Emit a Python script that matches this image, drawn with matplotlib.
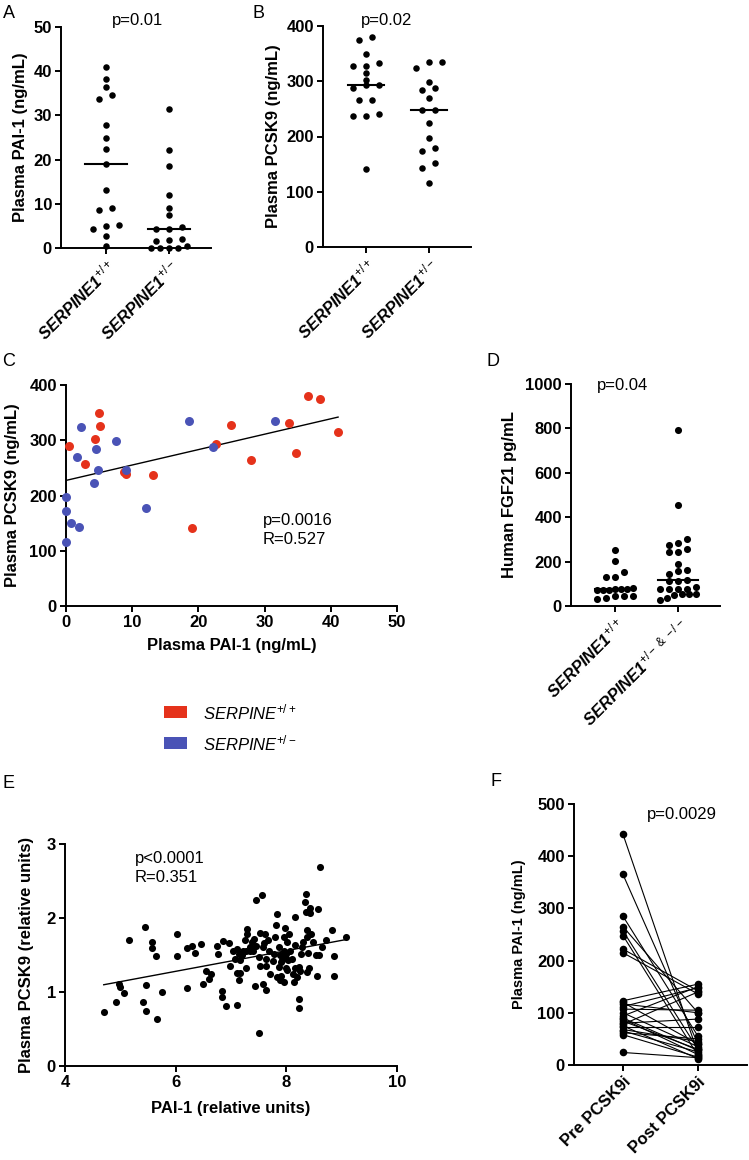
import numpy as np
import matplotlib
matplotlib.use('Agg')
import matplotlib.pyplot as plt
from matplotlib.patches import Rectangle

plt.rcParams['font.family'] = ['Liberation Sans', 'DejaVu Sans']
plt.rcParams['mathtext.fontset'] = 'custom'
plt.rcParams['mathtext.rm'] = 'Liberation Sans'
plt.rcParams['mathtext.it'] = 'Liberation Sans:italic'
plt.rcParams['mathtext.bf'] = 'Liberation Sans:bold'

# ---------------- DATA ----------------
# Panel A: plasma PAI-1 (ng/mL)
a_labels = ["SERPINE1$^{+/+}$", "SERPINE1$^{+/-}$"]
a_wt = [40.9, 38.2, 36.4, 34.6, 33.6, 27.8, 24.8, 22.5, 19.1, 13.1, 8.7, 9.0, 5.1, 4.9, 4.3, 2.8, 0.4]
a_het = [31.4, 22.2, 18.5, 11.9, 9.0, 7.5, 4.3, 4.4, 4.7, 1.5, 0.5, 1.7, 2.0, 0, 0, 0, 0]

# Panel B: plasma PCSK9 (ng/mL)
b_labels = ["SERPINE1$^{+/+}$", "SERPINE1$^{+/-}$"]
b_wt = [380.7, 374.7, 349.4, 327.1, 327.1, 332.5, 315.7, 302.4, 292.8, 292.8, 287.3,
        266.3, 266.3, 241.6, 238.0, 238.0, 141.6]
b_het = [335.5, 335.5, 324.7, 298.8, 285.0, 288.6, 269.3, 247.6, 247.6, 224.1, 197.0,
         178.9, 172.9, 151.8, 142.8, 115.0]

# Panel C: PCSK9 vs PAI-1
c_wt_pai1 = [0.45, 2.9, 4.4, 5.0, 5.2, 8.7, 9.1, 13.2, 19.1, 22.7, 24.9, 27.9, 33.7, 34.7, 36.5, 38.3, 41.1]
c_wt_pcsk9 = [289.6, 257.6, 302.3, 349.3, 326.4, 242.0, 238.3, 237.1, 141.2, 293.2, 328.2, 263.6,
              331.8, 276.3, 380.7, 374.7, 314.9]
c_het_pai1 = [0.0, 0.0, 0.0, 0.7, 1.7, 2.0, 2.2, 4.2, 4.6, 4.9, 7.6, 9.0, 12.1, 18.6, 22.2, 31.6]
c_het_pcsk9 = [196.7, 172.5, 115.2, 150.2, 269.1, 142.4, 324.0, 223.2, 284.2, 246.8, 298.0,
               246.8, 178.0, 335.4, 288.4, 335.4]
legend_labels = ["SERPINE$^{+/+}$", "SERPINE$^{+/-}$"]

# Panel D: human FGF21 (pg/mL)
d_labels = ["SERPINE1$^{+/+}$", "SERPINE1$^{+/-\\ &\\ -/-}$"]
d_wt = [251.5, 203.3, 131, 131, 153.6, 73.8, 73.8, 82.8, 73.8, 78.3, 78.3, 78.3,
        37.7, 43.7, 43.7, 46.7, 33.1]
d_mut = [793.7, 456.3, 300, 282, 275, 258, 241, 241, 188, 161, 158, 143, 118, 113, 113,
         78, 78, 86, 78, 78, 53, 56, 56, 48, 29, 38]

# Panel E: PCSK9 vs PAI-1 (relative units)
e_pai1 = [4.70, 4.92, 4.98, 4.99, 5.07, 5.16, 5.41, 5.46, 5.46, 5.45, 5.57, 5.58, 5.65, 5.67,
          5.76, 6.02, 6.03, 6.21, 6.21, 6.29, 6.35, 6.45, 6.49, 6.55, 6.61, 6.63, 6.75, 6.76,
          6.83, 6.84, 6.86, 6.91, 6.97, 6.99, 7.03, 7.07, 7.11, 7.11, 7.14, 7.11, 7.16, 7.14,
          7.17, 7.22, 7.25, 7.27, 7.28, 7.29, 7.29, 7.34, 7.38, 7.40, 7.41, 7.43, 7.46, 7.51,
          7.52, 7.53, 7.56, 7.58, 7.57, 7.51, 7.62, 7.63, 7.64, 7.64, 7.67, 7.68, 7.70, 7.75,
          7.77, 7.79, 7.82, 7.83, 7.83, 7.86, 7.87, 7.88, 7.89, 7.91, 7.92, 7.95, 7.95, 7.95,
          7.97, 7.99, 8.00, 8.01, 8.03, 8.05, 8.07, 8.11, 8.12, 8.13, 8.15, 8.16, 8.16, 8.19,
          8.22, 8.22, 8.22, 8.24, 8.27, 8.29, 8.31, 8.33, 8.35, 8.36, 8.37, 8.37, 8.38, 8.40,
          8.41, 8.42, 8.43, 8.45, 8.48, 8.54, 8.56, 8.57, 8.59, 8.60, 8.64, 8.71, 8.83, 8.86,
          8.86, 9.07, 7.20, 7.45, 7.90, 8.02, 7.98, 7.60, 7.35]
e_pcsk9 = [0.73, 0.86, 1.11, 1.07, 0.98, 1.70, 0.86, 0.75, 1.09, 1.88, 1.68, 1.60, 1.48, 0.64,
           1.00, 1.48, 1.79, 1.05, 1.60, 1.62, 1.53, 1.65, 1.11, 1.29, 1.18, 1.25, 1.62, 1.52,
           1.02, 0.93, 1.69, 0.81, 1.66, 1.35, 1.56, 1.45, 1.58, 1.26, 1.16, 0.83, 1.43, 1.52,
           1.26, 1.56, 1.70, 1.32, 1.56, 1.85, 1.79, 1.61, 1.67, 1.56, 1.72, 1.08, 2.24, 1.47,
           1.35, 1.80, 2.31, 1.61, 1.11, 0.44, 1.79, 1.03, 1.35, 1.45, 1.70, 1.56, 1.24, 1.42,
           1.52, 1.75, 1.90, 2.05, 1.20, 1.61, 1.34, 1.50, 1.16, 1.22, 1.43, 1.56, 1.75, 1.14,
           1.86, 1.33, 1.52, 1.68, 1.43, 1.79, 1.56, 1.45, 1.25, 1.14, 1.63, 2.02, 1.32, 1.20,
           1.34, 0.91, 0.79, 1.29, 1.52, 1.61, 1.68, 2.21, 2.08, 2.32, 1.84, 1.27, 1.75, 1.53,
           1.32, 2.07, 2.14, 1.78, 1.68, 1.50, 1.21, 2.12, 1.50, 2.69, 1.61, 1.70, 1.84, 1.48,
           1.21, 1.75, 1.50, 1.62, 1.40, 1.30, 1.48, 1.66, 1.55]

# Panel F: plasma PAI-1 pre/post PCSK9i (paired)
f_labels = ["Pre PCSK9i", "Post PCSK9i"]
f_pre = [442, 365, 285, 265, 257, 248, 222, 215, 123, 120, 117, 112, 107, 100, 94, 90, 88,
         84, 80, 78, 75, 72, 68, 65, 62, 58, 24]
f_post = [22, 40, 55, 100, 30, 18, 142, 136, 155, 40, 100, 148, 105, 35, 150, 28, 20, 30,
          88, 140, 12, 72, 45, 25, 50, 15, 14]

# ---------------- LAYOUT ----------------
W, H = 749, 1160
fig = plt.figure(figsize=(W / 100, H / 100), dpi=100)
RED = '#E5321B'
BLUE = '#4A53B6'
TICK_FS = 12
LW = 1.4


def fx(px):
    return px / W


def fy(py):
    return 1 - py / H


def ax_at(l, r, t, b):
    return fig.add_axes([l / W, 1 - b / H, (r - l) / W, (b - t) / H])


def style(ax):
    for s in ['top', 'right']:
        ax.spines[s].set_visible(False)
    for s in ['left', 'bottom']:
        ax.spines[s].set_linewidth(LW)
    ax.tick_params(direction='out', length=4.5, width=LW, labelsize=TICK_FS, pad=2)


def bold_ticks(ax):
    for t in ax.get_xticklabels() + ax.get_yticklabels():
        t.set_fontweight('bold')


def swarm(vals, ax, step_px, max_w_px, diam_px=6.0):
    v = np.asarray(vals, dtype=float)
    bb = ax.get_position()
    h_px = bb.height * H
    w_px = bb.width * W
    y0, y1 = ax.get_ylim()
    x0, x1 = ax.get_xlim()
    ppu_y = h_px / (y1 - y0)
    ppu_x = w_px / (x1 - x0)
    order = np.argsort(v, kind='stable')
    offs = np.zeros(len(v))
    i = 0
    while i < len(order):
        j = i
        start = v[order[i]]
        while j + 1 < len(order) and (v[order[j + 1]] - start) * ppu_y < diam_px:
            j += 1
        n = j - i + 1
        st = step_px if n < 2 else min(step_px, max_w_px / (n - 1))
        for k in range(n):
            offs[order[i + k]] = (k - (n - 1) / 2) * st / ppu_x
        i = j + 1
    return offs


def dot_panel(ax, groups, labels, ylim, yticks, s, half, step_px, max_w_px):
    ax.set_ylim(*ylim)
    for gi, g in enumerate(groups):
        offs = swarm(g, ax, step_px, max_w_px)
        ax.scatter(gi + offs, g, s=s, color='black', zorder=3, clip_on=False, linewidths=0)
        med = np.median(g)
        ax.plot([gi - half, gi + half], [med, med], color='black', lw=1.5, zorder=4)
    ax.set_yticks(yticks)
    ax.set_xticks(range(len(groups)))
    ax.set_xticklabels(labels, rotation=45, ha='right', va='top', rotation_mode='anchor',
                       fontsize=TICK_FS, fontweight='bold', fontstyle='italic')
    bold_ticks(ax)
    for t in ax.get_xticklabels():
        t.set_fontstyle('italic')


# Panel A
axA = ax_at(61, 211, 27, 248)
style(axA)
axA.set_xlim(-0.714, 1.667)
dot_panel(axA, [a_wt, a_het], a_labels, (0, 50), range(0, 51, 10), 22, 0.33, 13, 36)
axA.set_ylabel('Plasma PAI-1 (ng/mL)', fontsize=12, fontweight='bold', labelpad=4)

# Panel B
axB = ax_at(323, 471, 26, 247)
style(axB)
axB.set_xlim(-0.68, 1.667)
dot_panel(axB, [b_wt, b_het], b_labels, (0, 400), range(0, 401, 100), 22, 0.29, 13, 36)
axB.set_ylabel('Plasma PCSK9 (ng/mL)', fontsize=12, fontweight='bold', labelpad=4)

# Panel C
axC = ax_at(66, 397, 385, 606)
style(axC)
axC.set_xlim(0, 50)
axC.set_ylim(0, 400)
axC.scatter(c_wt_pai1, c_wt_pcsk9, s=42, color=RED, zorder=3, clip_on=False, linewidths=0)
axC.scatter(c_het_pai1, c_het_pcsk9, s=42, color=BLUE, zorder=3, clip_on=False, linewidths=0)
cx = np.array(c_wt_pai1 + c_het_pai1)
cy = np.array(c_wt_pcsk9 + c_het_pcsk9)
k, b = np.polyfit(cx, cy, 1)
xs = np.array([cx.min(), cx.max()])
axC.plot(xs, k * xs + b, color='black', lw=1.0, zorder=2)
axC.set_xticks(range(0, 51, 10))
axC.set_yticks(range(0, 401, 100))
bold_ticks(axC)
axC.set_xlabel('Plasma PAI-1 (ng/mL)', fontsize=12, fontweight='bold', labelpad=6)
axC.set_ylabel('Plasma PCSK9 (ng/mL)', fontsize=12, fontweight='bold', labelpad=7)

# Panel D
axD = ax_at(571, 720, 384, 606)
style(axD)
axD.set_xlim(-0.698, 1.667)
dot_panel(axD, [d_wt, d_mut], d_labels, (0, 1000), range(0, 1001, 200), 26, 0.31, 9, 36)
axD.set_ylabel('Human FGF21 pg/mL', fontsize=12, fontweight='bold', labelpad=6)

# Panel E
axE = ax_at(65, 397, 844, 1066)
style(axE)
axE.set_xlim(4, 10)
axE.set_ylim(0, 3)
axE.scatter(e_pai1, e_pcsk9, s=26, color='black', zorder=3, clip_on=False, linewidths=0)
ex = np.array(e_pai1)
ey = np.array(e_pcsk9)
k2, b2 = np.polyfit(ex, ey, 1)
xs2 = np.array([ex.min(), ex.max()])
axE.plot(xs2, k2 * xs2 + b2, color='black', lw=1.0, zorder=2)
axE.set_xticks([4, 6, 8, 10])
axE.set_yticks([0, 1, 2, 3])
bold_ticks(axE)
axE.set_xlabel('PAI-1 (relative units)', fontsize=12, fontweight='bold', labelpad=8)
axE.set_ylabel('Plasma PCSK9 (relative units)', fontsize=12, fontweight='bold', labelpad=9)

# Panel F
axF = ax_at(574, 747, 804, 1065)
style(axF)
axF.set_xlim(-0.653, 1.653)
axF.set_ylim(0, 500)
for p, q in zip(f_pre, f_post):
    axF.plot([0, 1], [p, q], color='black', lw=0.8, zorder=2)
axF.scatter([0] * len(f_pre), f_pre, s=30, color='black', zorder=3, clip_on=False, linewidths=0)
axF.scatter([1] * len(f_post), f_post, s=30, color='black', zorder=3, clip_on=False, linewidths=0)
axF.set_yticks(range(0, 501, 100))
axF.set_xticks([0, 1])
axF.set_xticklabels(f_labels, rotation=45, ha='right', va='top', rotation_mode='anchor',
                    fontsize=TICK_FS, fontweight='bold')
bold_ticks(axF)
axF.set_ylabel('Plasma PAI-1 (ng/mL)', fontsize=10.5, fontweight='bold', labelpad=8)

# Panel letters
for letter, (x, y) in {'A': (9, 14), 'B': (259, 14), 'C': (9, 362), 'D': (493, 362),
                       'E': (9, 784), 'F': (496, 781)}.items():
    fig.text(fx(x), fy(y), letter, fontsize=13, ha='center', va='center')

# p-values
fig.text(fx(138), fy(20), 'p=0.01', fontsize=12, ha='center', va='center')
fig.text(fx(387), fy(20), 'p=0.02', fontsize=12, ha='center', va='center')
fig.text(fx(623), fy(386), 'p=0.04', fontsize=12, ha='center', va='center')
fig.text(fx(682), fy(815), 'p=0.0029', fontsize=12, ha='center', va='center')
fig.text(fx(263), fy(520), 'p=0.0016', fontsize=12, ha='left', va='center')
fig.text(fx(263), fy(540), 'R=0.527', fontsize=12, ha='left', va='center')
fig.text(fx(135), fy(858), 'p<0.0001', fontsize=12, ha='left', va='center')
fig.text(fx(135), fy(878), 'R=0.351', fontsize=12, ha='left', va='center')

# Legend
for (yc, col, lab) in [(712, RED, legend_labels[0]), (743, BLUE, legend_labels[1])]:
    fig.add_artist(Rectangle((fx(164), fy(yc + 6)), 23 / W, 12 / H, transform=fig.transFigure,
                             color=col, lw=0))
    fig.text(fx(203), fy(yc), lab, fontsize=12, fontstyle='italic', ha='left', va='center')

fig.savefig('out.png', dpi=100)
